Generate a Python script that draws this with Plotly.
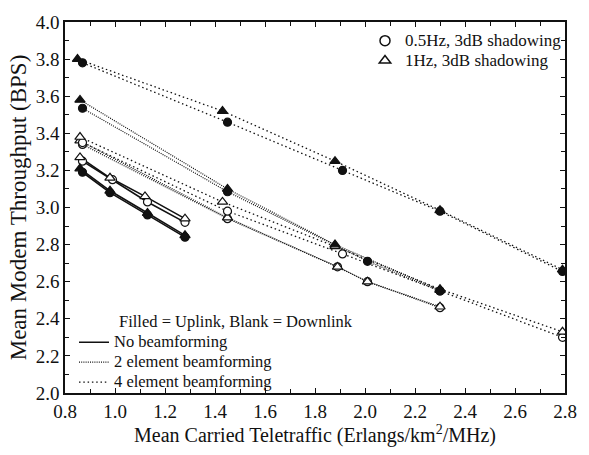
import plotly.graph_objects as go

# ---------------- data ----------------
# No beamforming (solid lines)
nb_up_c_x = [0.87, 0.98, 1.13, 1.28]
nb_up_c_y = [3.19, 3.08, 2.96, 2.84]
nb_up_t_x = [0.86, 0.98, 1.13, 1.28]
nb_up_t_y = [3.21, 3.09, 2.97, 2.85]
nb_dn_c_x = [0.87, 0.99, 1.13, 1.28]
nb_dn_c_y = [3.25, 3.15, 3.03, 2.92]
nb_dn_t_x = [0.86, 0.98, 1.12, 1.28]
nb_dn_t_y = [3.27, 3.16, 3.06, 2.94]

# 2 element beamforming (dense dotted)
b2_up_c_x = [0.87, 1.45, 2.01, 2.30]
b2_up_c_y = [3.535, 3.085, 2.71, 2.55]
b2_up_t_x = [0.86, 1.45, 1.88, 2.30]
b2_up_t_y = [3.58, 3.10, 2.80, 2.555]
b2_dn_c_x = [0.87, 1.45, 1.89, 2.01, 2.30]
b2_dn_c_y = [3.34, 2.94, 2.68, 2.60, 2.46]
b2_dn_t_x = [0.86, 1.45, 1.89, 2.01, 2.30]
b2_dn_t_y = [3.36, 2.945, 2.68, 2.60, 2.465]

# 4 element beamforming (sparse dotted)
b4_up_c_x = [0.87, 1.45, 1.91, 2.30, 2.79]
b4_up_c_y = [3.78, 3.46, 3.20, 2.98, 2.655]
b4_up_t_x = [0.85, 1.43, 1.88, 2.30, 2.79]
b4_up_t_y = [3.80, 3.52, 3.25, 2.985, 2.665]
b4_dn_c_x = [0.87, 1.45, 1.91, 2.30, 2.79]
b4_dn_c_y = [3.35, 2.98, 2.75, 2.55, 2.30]
b4_dn_t_x = [0.86, 1.43, 1.88, 2.30, 2.79]
b4_dn_t_y = [3.38, 3.03, 2.79, 2.56, 2.33]

x_ticks = [0.8, 1.0, 1.2, 1.4, 1.6, 1.8, 2.0, 2.2, 2.4, 2.6, 2.8]
y_ticks = [2.0, 2.2, 2.4, 2.6, 2.8, 3.0, 3.2, 3.4, 3.6, 3.8, 4.0]

FONT = "Liberation Serif, Times New Roman, serif"
INK = "#111111"
DASH = {"none": "solid", "two": "1px,1.2px", "four": "1.5px,2.8px"}
LW = {"none": 1.6, "two": 1.2, "four": 1.3}

series = [
    ("none", nb_up_c_x, nb_up_c_y, "circle", True),
    ("none", nb_up_t_x, nb_up_t_y, "triangle-up", True),
    ("none", nb_dn_c_x, nb_dn_c_y, "circle", False),
    ("none", nb_dn_t_x, nb_dn_t_y, "triangle-up", False),
    ("two", b2_up_c_x, b2_up_c_y, "circle", True),
    ("two", b2_up_t_x, b2_up_t_y, "triangle-up", True),
    ("two", b2_dn_c_x, b2_dn_c_y, "circle", False),
    ("two", b2_dn_t_x, b2_dn_t_y, "triangle-up", False),
    ("four", b4_up_c_x, b4_up_c_y, "circle", True),
    ("four", b4_up_t_x, b4_up_t_y, "triangle-up", True),
    ("four", b4_dn_c_x, b4_dn_c_y, "circle", False),
    ("four", b4_dn_t_x, b4_dn_t_y, "triangle-up", False),
]


def big(s, px=17):
    return f'<span style="font-size:{px}px">{s}</span>'


fig = go.Figure()

# lines first
for kind, xs, ys, sym, filled in series:
    fig.add_trace(go.Scatter(x=xs, y=ys, mode="lines", showlegend=False,
                             line=dict(color=INK, width=LW[kind], dash=DASH[kind]),
                             hoverinfo="skip"))
# markers on top (open first, filled last)
for filled_pass in (False, True):
    for kind, xs, ys, sym, filled in series:
        if filled != filled_pass:
            continue
        size = 8 if sym == "circle" else 9
        fig.add_trace(go.Scatter(
            x=xs, y=ys, mode="markers", showlegend=False,
            marker=dict(symbol=sym, size=size,
                        color=INK if filled else "white",
                        line=dict(color=INK, width=1.2))))

# legend 1: symbols
fig.add_trace(go.Scatter(x=[None], y=[None], mode="markers", name=big("0.5Hz, 3dB shadowing"),
                         legend="legend",
                         marker=dict(symbol="circle", size=10, color="white",
                                     line=dict(color=INK, width=1.5))))
fig.add_trace(go.Scatter(x=[None], y=[None], mode="markers", name=big("1Hz, 3dB shadowing"),
                         legend="legend",
                         marker=dict(symbol="triangle-up", size=10, color="white",
                                     line=dict(color=INK, width=1.5))))
# legend 2: line styles
for kind, label in (("none", "No beamforming"), ("two", "2 element beamforming"),
                    ("four", "4 element beamforming")):
    fig.add_trace(go.Scatter(x=[None], y=[None], mode="lines", name=big(label, 16.5),
                             legend="legend2",
                             line=dict(color=INK, width=LW[kind], dash=DASH[kind])))

axis_common = dict(
    showline=True, linecolor=INK, linewidth=1.5, mirror="ticks",
    ticks="inside", ticklen=5, tickwidth=1, tickcolor=INK,
    showgrid=False, zeroline=False,
    tickfont=dict(family=FONT, size=19, color=INK),
    minor=dict(ticks="inside", ticklen=4, tickcolor=INK, dtick=0.1, showgrid=False),
)

fig.update_layout(
    width=589, height=455,
    margin=dict(l=65, r=15, t=17, b=58),
    plot_bgcolor="white", paper_bgcolor="white",
    font=dict(family=FONT, color=INK),
    xaxis=dict(range=[0.8, 2.8], tickvals=x_ticks, ticktext=[f"{v:.1f}" for v in x_ticks],
               title=dict(text="Mean Carried Teletraffic (Erlangs/km<sup>2</sup>/MHz)",
                          font=dict(family=FONT, size=20, color=INK), standoff=7),
               **axis_common),
    yaxis=dict(range=[2.0, 4.0], tickvals=y_ticks, ticktext=[f"{v:.1f}" for v in y_ticks],
               title=dict(text="Mean Modem Throughput (BPS)",
                          font=dict(family=FONT, size=23, color=INK), standoff=3),
               **axis_common),
    legend=dict(x=0.6, y=0.99, xanchor="left", yanchor="top",
                bgcolor="rgba(0,0,0,0)", font=dict(family=FONT, size=13, color=INK),
                tracegroupgap=0, itemwidth=30),
    legend2=dict(x=0.018, y=0.177, xanchor="left", yanchor="top",
                 bgcolor="rgba(0,0,0,0)", font=dict(family=FONT, size=13, color=INK),
                 tracegroupgap=0, itemwidth=30),
    annotations=[dict(text="Filled = Uplink, Blank = Downlink", xref="paper", yref="paper",
                      x=0.104, y=0.192, xanchor="left", yanchor="middle", showarrow=False,
                      font=dict(family=FONT, size=16.5, color=INK))],
)

fig.write_html("out.html")
